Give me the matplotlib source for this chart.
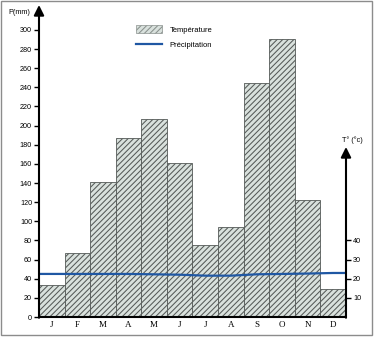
import matplotlib
matplotlib.use("Agg")
import matplotlib.pyplot as plt
from matplotlib.patches import Rectangle, Patch
from matplotlib.lines import Line2D
import numpy as np

months = ["J", "F", "M", "A", "M", "J", "J", "A", "S", "O", "N", "D"]
bar_values = [33, 67, 141, 187, 207, 161, 75, 94, 245, 291, 122, 29]
line_values = [22.5, 22.5, 22.5, 22.5, 22.3, 22.1, 21.6, 21.6, 22.3, 22.5, 22.7, 23.0]
left_ticks = list(range(0, 301, 20))
right_ticks = [10, 20, 30, 40]
legend_labels = ["Température", "Précipitation"]

plt.rcParams['hatch.linewidth'] = 0.75
plt.rcParams['hatch.color'] = '#66706c'

W, H = 374, 351
fig = plt.figure(figsize=(W / 100, H / 100), dpi=100)
x0, x1, y0, ytop = 39, 346, 317, 5
ax = fig.add_axes([x0 / W, (H - y0) / H, (x1 - x0) / W, (y0 - ytop) / H])
pxu = 0.957
ymax = (y0 - ytop) / pxu
ax.set_xlim(0, 12)
ax.set_ylim(0, ymax)

x = np.arange(12) + 0.5
ax.bar(x, bar_values, width=1.0, color='#d9e1dd', edgecolor='#555a58',
       linewidth=0.6, hatch='//////', zorder=2)

# line on T-scale: P = 2*T
lx = np.concatenate([[0], x, [12]])
ly = 2 * np.array([line_values[0]] + line_values + [line_values[-1]])
ax.plot(lx, ly, color='#1f57a3', lw=1.6, zorder=3)

for s in ax.spines.values():
    s.set_visible(False)

ax.plot([0, 12], [0, 0], color='black', lw=1.5, zorder=4, clip_on=False,
        solid_capstyle='butt')
ax.annotate('', xy=(0, ymax), xytext=(0, -0.8), xycoords='data',
            arrowprops=dict(arrowstyle='-|>,head_length=0.6,head_width=0.3',
                            color='black', lw=1.5, shrinkA=0, shrinkB=0),
            annotation_clip=False, zorder=5)
rtop = (y0 - 147) / pxu
ax.annotate('', xy=(12, rtop), xytext=(12, -0.8), xycoords='data',
            arrowprops=dict(arrowstyle='-|>,head_length=0.6,head_width=0.3',
                            color='black', lw=1.5, shrinkA=0, shrinkB=0),
            annotation_clip=False, zorder=5)

ax.set_yticks(left_ticks)
ax.set_yticklabels([str(v) for v in left_ticks], fontsize=5.2,
                   family='Liberation Sans')
ax.tick_params(axis='y', direction='out', length=3.5, width=1.0, pad=1.5)
ax.set_xticks(x)
ax.set_xticklabels(months, fontsize=6.5, family='Liberation Serif')
ax.tick_params(axis='x', length=0, pad=3)

ax2 = ax.twinx()
ax2.set_ylim(0, ymax / 2)
for s in ax2.spines.values():
    s.set_visible(False)
ax2.set_yticks(right_ticks)
ax2.set_yticklabels([str(v) for v in right_ticks], fontsize=5.2,
                    family='Liberation Sans')
ax2.tick_params(axis='y', direction='out', length=3.5, width=1.0, pad=1.5)

fig.text(8 / W, 1 - 12 / H, "P(mm)", fontsize=5.2, family='Liberation Sans',
         va='center', ha='left')
fig.text(342 / W, 1 - 140 / H, "T° (°c)", fontsize=5.2, family='Liberation Sans',
         va='center', ha='left')

handles = [Patch(facecolor='#d9e1dd', edgecolor='#8a918e', hatch='//////',
                 linewidth=0.5),
           Line2D([0], [0], color='#1f57a3', lw=1.6)]
leg = fig.legend(handles, legend_labels, loc='upper left',
                 bbox_to_anchor=(136 / W, 1 - 25 / H), frameon=False,
                 prop={'family': 'Liberation Sans', 'size': 5.5},
                 handlelength=3.4, handleheight=1.3, labelspacing=0.9,
                 handletextpad=1.0, borderaxespad=0, borderpad=0)

fig.patches.append(Rectangle((1 / W, (H - 335) / H), 371 / W, 334 / H,
                             transform=fig.transFigure, fill=False,
                             edgecolor='#8c8c8c', lw=1.0))

fig.savefig("out.png", dpi=100)
